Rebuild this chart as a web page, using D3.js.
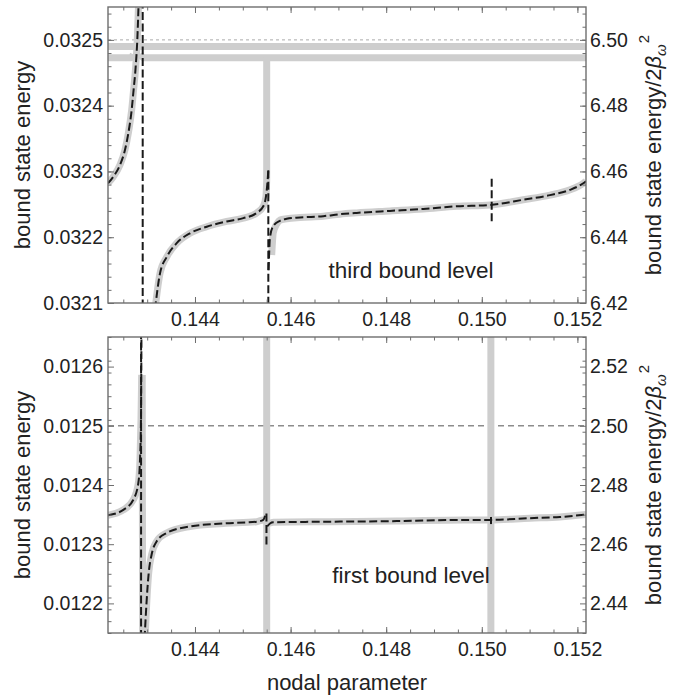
<!DOCTYPE html>
<html>
<head>
<meta charset="utf-8">
<title>bound levels</title>
<script src="https://d3js.org/d3.v7.min.js"></script>
<style>
  html, body { margin:0; padding:0; background:#fff; }
  svg { display:block; font-family:"Liberation Sans", Arial, sans-serif; }
</style>
</head>
<body>
<svg id="chart" width="682" height="696"></svg>
<script>
// ---- data ----
var xDomain = [0.14218, 0.15218];
var xTicks = [0.144, 0.146, 0.148, 0.150, 0.152];
var energyScale = 200;   // right axis = energy / 2 beta_w^2

// third bound level (top panel)
var yDomain3 = [0.0321, 0.03255];
var yTicks3 = [0.0321, 0.0322, 0.0323, 0.0324, 0.0325];
var threshold3 = 0.0325;
var gray3 = [
  [[0.14218,0.032490],[0.15218,0.032490]],
  [[0.14218,0.032473],[0.14266,0.032473],[0.14271,0.032478]],
  [[0.14285,0.032479],[0.14292,0.032473],[0.15218,0.032473]],
  [[0.14218,0.032282],[0.142291,0.032292],[0.142431,0.032310],[0.142536,0.032333],[0.142605,0.032358],
   [0.142676,0.032394],[0.142709,0.032419],[0.142760,0.032460],[0.142793,0.032500],[0.142822,0.032560]],
  [[0.143163,0.032090],[0.143268,0.032145],[0.143408,0.032170],[0.143617,0.032191],[0.143895,0.032206],
   [0.144245,0.032216],[0.144663,0.032224],[0.145011,0.032229],[0.145291,0.032237],[0.145429,0.032247],
   [0.145485,0.032262],[0.145500,0.032287]],
  [[0.145500,0.032287],[0.145500,0.032473]],
  [[0.145605,0.032173],[0.145638,0.032207],[0.145709,0.032220],[0.145778,0.032226],[0.145918,0.032228],
   [0.146197,0.032230],[0.146684,0.032232],[0.147033,0.032235],[0.147383,0.032237],[0.148079,0.032240],
   [0.148776,0.032243],[0.149475,0.032247],[0.150172,0.032249],[0.150868,0.032257],[0.151427,0.032264],
   [0.151845,0.032272],[0.152124,0.032282],[0.15218,0.032285]]
];
var dash3 = [
  [[0.14218,0.032282],[0.142291,0.032292],[0.142431,0.032310],[0.142536,0.032333],[0.142605,0.032358],
   [0.142676,0.032394],[0.142709,0.032419],[0.142760,0.032460],[0.142793,0.032500],[0.142822,0.032560]],
  [[0.142906,0.03256],[0.142906,0.03209]],
  [[0.143163,0.032090],[0.143268,0.032145],[0.143408,0.032170],[0.143617,0.032191],[0.143895,0.032206],
   [0.144245,0.032216],[0.144663,0.032224],[0.145011,0.032229],[0.145291,0.032237],[0.145429,0.032247],
   [0.145485,0.032262],[0.145520,0.032287],[0.145534,0.032302]],
  [[0.145534,0.032302],[0.145534,0.03209]],
  [[0.145540,0.032150],[0.145569,0.032200],[0.145638,0.032217],[0.145778,0.032225],[0.145918,0.032228],
   [0.146197,0.032230],[0.146684,0.032232],[0.147033,0.032235],[0.147383,0.032237],[0.148079,0.032240],
   [0.148776,0.032243],[0.149475,0.032247],[0.150172,0.032249],[0.150868,0.032257],[0.151427,0.032264],
   [0.151845,0.032272],[0.152124,0.032282],[0.15218,0.032285]],
  [[0.150207,0.032289],[0.150207,0.032219]]
];

// first bound level (bottom panel)
var yDomain1 = [0.01215, 0.01265];
var yTicks1 = [0.0122, 0.0123, 0.0124, 0.0125, 0.0126];
var threshold1 = 0.0125;
var bands1 = [0.14550, 0.15019];
var gray1 = [
  [[0.14218,0.012349],[0.142500,0.012358],[0.142709,0.012375],[0.142814,0.012403],[0.142849,0.012442],
   [0.142870,0.012510],[0.142885,0.012586]],
  [[0.142895,0.012586],[0.142905,0.01214]],
  [[0.142954,0.01214],[0.142990,0.012200],[0.143030,0.012250],[0.143094,0.012283],[0.143199,0.012305],
   [0.143408,0.012319],[0.143895,0.012330],[0.144592,0.012335],[0.145291,0.012338],[0.145429,0.012341],
   [0.145569,0.012336],[0.145638,0.012337],[0.146824,0.012338],[0.148220,0.012339],[0.149613,0.012341],
   [0.150172,0.012341],[0.151008,0.012344],[0.151636,0.012346],[0.15218,0.012350]]
];
var dash1 = [
  [[0.14218,0.012349],[0.142500,0.012358],[0.142709,0.012375],[0.142814,0.012403],[0.142849,0.012442],
   [0.142870,0.012510],[0.142880,0.012660]],
  [[0.142872,0.01266],[0.142872,0.01214]],
  [[0.142945,0.01214],[0.142985,0.012200],[0.143030,0.012250],[0.143094,0.012283],[0.143199,0.012305],
   [0.143408,0.012319],[0.143895,0.012330],[0.144592,0.012335],[0.145291,0.012338],[0.145429,0.012341],
   [0.145480,0.012352]],
  [[0.145495,0.012352],[0.145495,0.012296]],
  [[0.145510,0.012330],[0.145569,0.012335],[0.145638,0.012337],[0.146824,0.012338],[0.148220,0.012339],
   [0.149613,0.012341],[0.150172,0.012341],[0.151008,0.012344],[0.151636,0.012346],[0.15218,0.012350]],
  [[0.150193,0.012346],[0.150193,0.012334]]
];

// ---- drawing ----
var svg = d3.select('#chart');
var left = 108, right = 586;
var x = d3.scaleLinear().domain(xDomain).range([left, right]);

var panels = [
  {top: 7, bottom: 303, yDomain: yDomain3, yTicks: yTicks3, threshold: threshold3,
   gray: gray3, dash: dash3, bands: [], label: 'third bound level', labelY: 278,
   thrColor: '#aaaaaa', thrWidth: 1, thrDash: '3,3'},
  {top: 337, bottom: 633, yDomain: yDomain1, yTicks: yTicks1, threshold: threshold1,
   gray: gray1, dash: dash1, bands: bands1, label: 'first bound level', labelY: 583,
   thrColor: '#8c8c8c', thrWidth: 1.5, thrDash: '6,4'}
];

var grayCol = '#cecece';
var frameCol = '#6e6e6e';

panels.forEach(function(p, i){
  var y = d3.scaleLinear().domain(p.yDomain).range([p.bottom, p.top]);
  var g = svg.append('g');
  var clipId = 'clip' + i;
  svg.append('clipPath').attr('id', clipId)
    .append('rect').attr('x', left).attr('y', p.top)
    .attr('width', right - left).attr('height', p.bottom - p.top);

  var plot = g.append('g').attr('clip-path', 'url(#' + clipId + ')');
  var line = d3.line().x(function(d){ return x(d[0]); }).y(function(d){ return y(d[1]); })
    .curve(d3.curveMonotoneX);

  // threshold
  plot.append('line')
    .attr('x1', left).attr('x2', right)
    .attr('y1', y(p.threshold)).attr('y2', y(p.threshold))
    .attr('stroke', p.thrColor).attr('stroke-width', p.thrWidth)
    .attr('stroke-dasharray', p.thrDash);

  // vertical gray bands
  plot.selectAll('.band').data(p.bands).enter().append('line')
    .attr('x1', function(d){ return x(d); }).attr('x2', function(d){ return x(d); })
    .attr('y1', p.top).attr('y2', p.bottom)
    .attr('stroke', grayCol).attr('stroke-width', 7);

  plot.selectAll('.gray').data(p.gray).enter().append('path')
    .attr('d', line).attr('fill', 'none')
    .attr('stroke', grayCol).attr('stroke-width', 7);

  plot.selectAll('.dash').data(p.dash).enter().append('path')
    .attr('d', line).attr('fill', 'none')
    .attr('stroke', '#1a1a1a').attr('stroke-width', 2)
    .attr('stroke-dasharray', '8,3.5');

  // frame
  g.append('rect').attr('x', left).attr('y', p.top)
    .attr('width', right - left).attr('height', p.bottom - p.top)
    .attr('fill', 'none').attr('stroke', frameCol).attr('stroke-width', 1.4);

  var xMinor = d3.range(0.1425, 0.15221, 0.0005);
  var yMinor = d3.range(p.yDomain[0], p.yDomain[1] + 1e-9, 0.00002)
    .filter(function(v){ return v >= p.yDomain[0] && v <= p.yDomain[1]; });

  function styleAxis(sel){
    sel.select('.domain').remove();
    sel.selectAll('.tick line').attr('stroke', frameCol).attr('stroke-width', 1);
    sel.selectAll('.tick text').attr('fill', '#222').style('font-size', '19.5px')
      .style('font-family', '"Liberation Sans", Arial, sans-serif');
  }

  // bottom
  g.append('g').attr('transform', 'translate(0,' + p.bottom + ')')
    .call(d3.axisBottom(x).tickValues(xTicks).tickFormat(d3.format('.3f')).tickSize(-6).tickPadding(9))
    .call(styleAxis);
  g.append('g').attr('transform', 'translate(0,' + p.bottom + ')')
    .call(d3.axisBottom(x).tickValues(xMinor).tickFormat('').tickSize(-3.5))
    .call(styleAxis);
  // top
  g.append('g').attr('transform', 'translate(0,' + p.top + ')')
    .call(d3.axisTop(x).tickValues(xTicks).tickFormat('').tickSize(-6))
    .call(styleAxis);
  g.append('g').attr('transform', 'translate(0,' + p.top + ')')
    .call(d3.axisTop(x).tickValues(xMinor).tickFormat('').tickSize(-3.5))
    .call(styleAxis);
  // left
  g.append('g').attr('transform', 'translate(' + left + ',0)')
    .call(d3.axisLeft(y).tickValues(p.yTicks).tickFormat(d3.format('.4f')).tickSize(-6).tickPadding(5))
    .call(styleAxis);
  g.append('g').attr('transform', 'translate(' + left + ',0)')
    .call(d3.axisLeft(y).tickValues(yMinor).tickFormat('').tickSize(-3.5))
    .call(styleAxis);
  // right
  g.append('g').attr('transform', 'translate(' + right + ',0)')
    .call(d3.axisRight(y).tickValues(p.yTicks)
      .tickFormat(function(v){ return (v * energyScale).toFixed(2); }).tickSize(-6).tickPadding(4))
    .call(styleAxis);
  g.append('g').attr('transform', 'translate(' + right + ',0)')
    .call(d3.axisRight(y).tickValues(yMinor).tickFormat('').tickSize(-3.5))
    .call(styleAxis);

  // in-plot label
  g.append('text').attr('x', 411).attr('y', p.labelY)
    .attr('text-anchor', 'middle').attr('fill', '#222').style('font-size', '22.5px')
    .text(p.label);

  var cy = (p.top + p.bottom) / 2;
  g.append('text').attr('transform', 'translate(30,' + cy + ') rotate(-90)')
    .attr('text-anchor', 'middle').attr('fill', '#222').style('font-size', '22px')
    .text('bound state energy');

  var rt = g.append('text').attr('transform', 'translate(661,' + cy + ') rotate(-90)')
    .attr('text-anchor', 'middle').attr('fill', '#222').style('font-size', '22px');
  rt.append('tspan').text('bound state energy/2');
  rt.append('tspan').style('font-style', 'italic').text('\u03B2');
  rt.append('tspan').style('font-style', 'italic').style('font-size', '15px').attr('dy', 5).text('\u03C9');
  rt.append('tspan').style('font-size', '15px').attr('dy', -17).attr('dx', 1).text('2');
});

svg.append('text').attr('x', 347).attr('y', 690)
  .attr('text-anchor', 'middle').attr('fill', '#222').style('font-size', '22px')
  .text('nodal parameter');
</script>
</body>
</html>
